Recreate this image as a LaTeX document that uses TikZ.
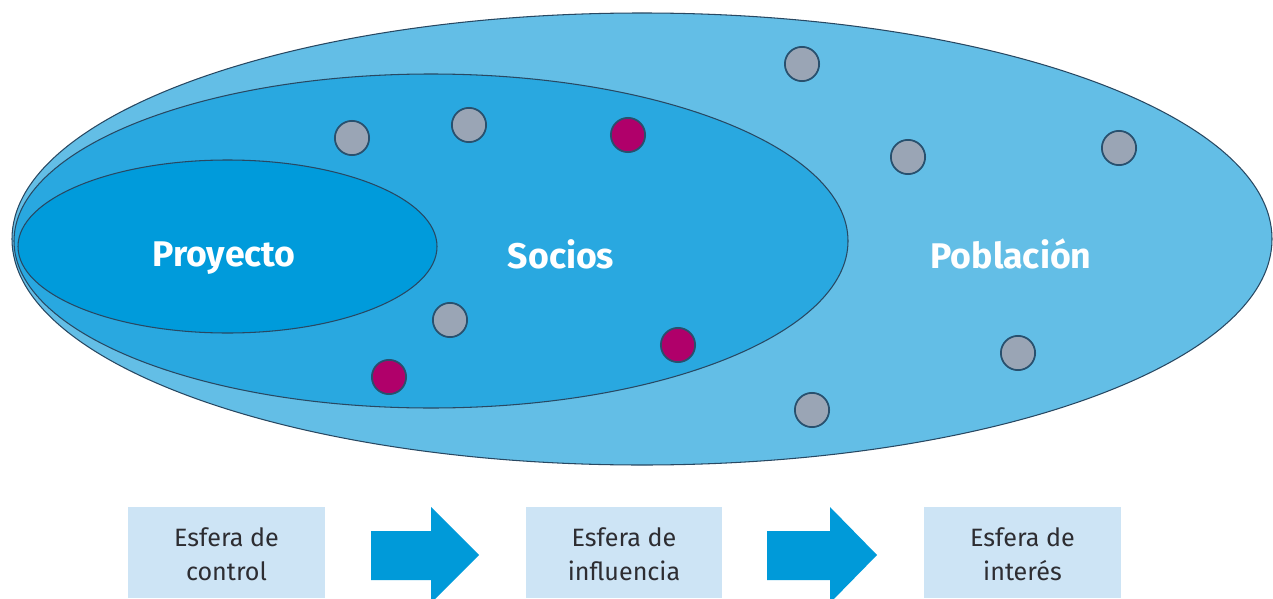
\documentclass[tikz,border=0pt]{standalone}
\usepackage{fontspec}
\setmainfont{Fira Sans}
\definecolor{outerc}{RGB}{99,190,230}
\definecolor{midc}{RGB}{41,168,224}
\definecolor{innerc}{RGB}{0,155,219}
\definecolor{edgec}{RGB}{40,72,98}
\definecolor{dotgray}{RGB}{154,165,181}
\definecolor{dotmag}{RGB}{176,0,106}
\definecolor{dotedge}{RGB}{40,80,110}
\definecolor{boxc}{RGB}{205,228,245}
\definecolor{arrc}{RGB}{0,154,217}
\definecolor{txtc}{RGB}{45,45,50}
\tikzset{
  sphere/.style={draw=edgec, line width=0.6pt},
  gdot/.style={circle, fill=dotgray, draw=dotedge, line width=1pt, minimum size=19.5pt, inner sep=0pt},
  mdot/.style={gdot, fill=dotmag},
  biglabel/.style={text=white, anchor=base, font=\fontsize{20.3}{22}\selectfont\bfseries},
  spherebox/.style={fill=boxc, minimum width=197*0.567pt, minimum height=91*0.567pt, inner sep=0pt},
  boxtext/.style={align=center, text=txtc, font=\fontsize{14.3}{19.5}\selectfont},
  bigarrow/.style={fill=arrc}
}
\begin{document}
\begin{tikzpicture}[x=0.02cm, y=-0.02cm]
\useasboundingbox (0,0) rectangle (1273,598);
% spheres
\path[sphere, fill=outerc] (642,239) ellipse [x radius=630, y radius=226];
\path[sphere, fill=midc] (431,241) ellipse [x radius=417, y radius=167];
\path[sphere, fill=innerc] (227.5,246.5) ellipse [x radius=209.5, y radius=86.5];
% labels
\node[biglabel] (proy) at (224,266) {Proyecto};
\node[biglabel] (soc) at (561,268) {Socios};
\node[biglabel] (pob) at (1011,268) {Población};
% dots
\node[gdot] (d1) at (352,138) {};
\node[gdot] (d2) at (469,125) {};
\node[mdot] (d3) at (628,135) {};
\node[gdot] (d4) at (802,64) {};
\node[gdot] (d5) at (908,157) {};
\node[gdot] (d6) at (1119,148) {};
\node[gdot] (d7) at (450,320) {};
\node[mdot] (d8) at (389,377) {};
\node[mdot] (d9) at (678,345) {};
\node[gdot] (d10) at (1018,353) {};
\node[gdot] (d11) at (812,410) {};
% boxes
\node[spherebox] (b1) at (226.5,552.5) {};
\node[spherebox] (b2) at (624,552.5) {};
\node[spherebox] (b3) at (1022.5,552.5) {};
\node[boxtext] (t1) at (226.5,554) {Esfera de\\control};
\node[boxtext] (t2) at (624,554) {Esfera de\\influencia};
\node[boxtext] (t3) at (1022.5,554) {Esfera de\\interés};
% arrows
\fill[bigarrow] (371,531) -- (431,531) -- (431,507) -- (479,555) -- (431,603) -- (431,580) -- (371,580) -- cycle;
\fill[bigarrow] (767,531) -- (830,531) -- (830,507) -- (877,555) -- (830,603) -- (830,580) -- (767,580) -- cycle;
\end{tikzpicture}
\end{document}
